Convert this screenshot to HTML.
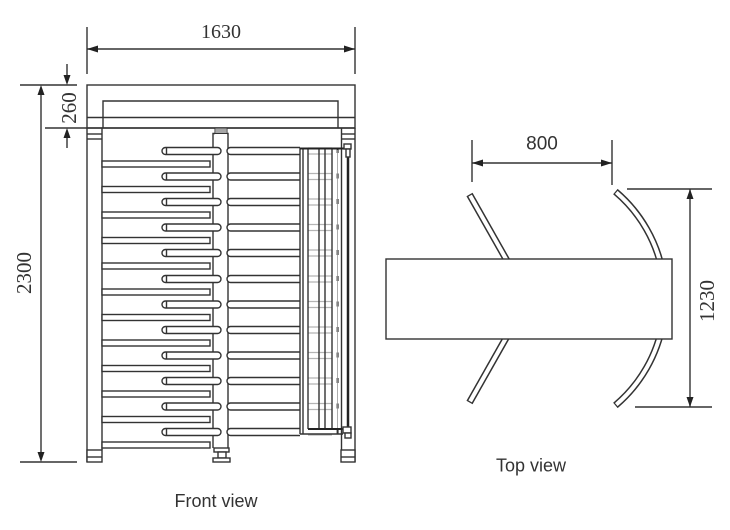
<!DOCTYPE html>
<html>
<head>
<meta charset="utf-8">
<style>
html,body{margin:0;padding:0;background:#fff;}
svg{display:block;}
.s{stroke:#333;stroke-width:1.4;fill:none;}
.w{stroke:#333;stroke-width:1.4;fill:#fff;}
.a{fill:#222;stroke:none;}
.dim{font-family:"Liberation Serif",serif;fill:#333;}
.lab{font-family:"Liberation Sans",sans-serif;fill:#333;}
</style>
</head>
<body>
<svg width="730" height="530" viewBox="0 0 730 530" xmlns="http://www.w3.org/2000/svg">
<defs>
  <g id="row">
    <rect x="102" y="10" width="108" height="6" class="w"/>
    <rect x="162" y="-3.5" width="59" height="7" rx="3.5" class="w"/>
    <line x1="166.5" y1="-3" x2="166.5" y2="3" class="s"/>
    <path d="M300,-3.5 H230.5 A3.5,3.5 0 0 0 230.5,3.5 H300" class="w"/>
    <line x1="308" y1="-3" x2="332" y2="-3" stroke="#b5b5b5" stroke-width="1.2"/>
    <line x1="308" y1="3" x2="332" y2="3" stroke="#b5b5b5" stroke-width="1.2"/>
    <rect x="336.6" y="-3" width="2" height="5" fill="#333"/>
  </g>
</defs>

<!-- ============ FRONT VIEW ============ -->
<line x1="87" y1="27" x2="87" y2="74" class="s"/>
<line x1="355" y1="27" x2="355" y2="74" class="s"/>
<line x1="87" y1="49" x2="355" y2="49" class="s"/>
<polygon points="87,49 98,45.5 98,52.5" class="a"/>
<polygon points="355,49 344,45.5 344,52.5" class="a"/>
<text x="221" y="38" text-anchor="middle" font-size="20" class="dim">1630</text>

<line x1="20" y1="85" x2="77" y2="85" class="s"/>
<line x1="45" y1="128" x2="355" y2="128" class="s"/>
<line x1="67" y1="64" x2="67" y2="80" class="s"/>
<polygon points="67,85 63.5,75 70.5,75" class="a"/>
<line x1="67" y1="133" x2="67" y2="148" class="s"/>
<polygon points="67,128 63.5,138 70.5,138" class="a"/>
<text transform="translate(76,108) rotate(-90)" text-anchor="middle" font-size="21" class="dim">260</text>

<line x1="41" y1="88" x2="41" y2="459" class="s"/>
<polygon points="41,85 37.5,95 44.5,95" class="a"/>
<polygon points="41,462 37.5,452 44.5,452" class="a"/>
<line x1="20" y1="462" x2="77" y2="462" class="s"/>
<text transform="translate(31,273) rotate(-90)" text-anchor="middle" font-size="21" class="dim">2300</text>

<rect x="87" y="85" width="268" height="43" class="s"/>
<line x1="87" y1="117.5" x2="355" y2="117.5" class="s"/>
<polyline points="103,128 103,101 338,101 338,128" class="s"/>

<line x1="87" y1="128" x2="87" y2="462" class="s"/>
<line x1="102" y1="128" x2="102" y2="450" class="s"/>
<line x1="87" y1="134" x2="102" y2="134" class="s"/>
<line x1="87" y1="139" x2="102" y2="139" class="s"/>
<rect x="87" y="450" width="15" height="12" class="w"/>
<line x1="87" y1="457" x2="102" y2="457" class="s"/>

<line x1="355" y1="128" x2="355" y2="462" class="s"/>
<line x1="341.5" y1="128" x2="341.5" y2="450" class="s"/>
<line x1="341.5" y1="134" x2="355" y2="134" class="s"/>
<line x1="341.5" y1="139" x2="355" y2="139" class="s"/>
<rect x="341" y="450" width="14" height="12" class="w"/>
<line x1="341" y1="457" x2="355" y2="457" class="s"/>

<rect x="215" y="128" width="12" height="5.5" fill="#ddd" stroke="#333" stroke-width="1"/>
<g stroke="#555" stroke-width="0.8">
  <line x1="217" y1="128" x2="217" y2="133"/><line x1="219" y1="128" x2="219" y2="133"/>
  <line x1="221" y1="128" x2="221" y2="133"/><line x1="223" y1="128" x2="223" y2="133"/>
  <line x1="225" y1="128" x2="225" y2="133"/>
</g>
<polyline points="213,448 213,133.5 215,133.5" class="s"/>
<polyline points="228,448 228,133.5 227,133.5" class="s"/>
<rect x="214" y="448" width="15" height="4" class="w"/>
<rect x="218" y="452" width="8" height="6" class="w"/>
<rect x="213" y="458" width="17" height="4" class="w"/>

<use href="#row" transform="translate(0,151)"/>
<use href="#row" transform="translate(0,176.5)"/>
<use href="#row" transform="translate(0,202)"/>
<use href="#row" transform="translate(0,227.5)"/>
<use href="#row" transform="translate(0,253)"/>
<use href="#row" transform="translate(0,279)"/>
<use href="#row" transform="translate(0,304.5)"/>
<use href="#row" transform="translate(0,330)"/>
<use href="#row" transform="translate(0,355.5)"/>
<use href="#row" transform="translate(0,381)"/>
<use href="#row" transform="translate(0,406.5)"/>
<use href="#row" transform="translate(0,432)"/>

<line x1="300" y1="148" x2="300" y2="434" class="s"/>
<line x1="303" y1="148" x2="303" y2="434" class="s"/>
<line x1="308" y1="148" x2="308" y2="429" class="s"/>
<line x1="319" y1="148" x2="319" y2="429" class="s"/>
<line x1="325" y1="148" x2="325" y2="429" class="s"/>
<line x1="332" y1="148" x2="332" y2="429" class="s"/>
<line x1="337.5" y1="150" x2="337.5" y2="429" stroke="#999" stroke-width="0.8"/>
<line x1="348" y1="148" x2="348" y2="430" stroke="#222" stroke-width="2.5"/>
<line x1="300" y1="148.5" x2="347" y2="148.5" stroke="#222" stroke-width="2"/>
<rect x="344" y="144" width="7" height="5" class="w"/>
<rect x="346" y="149" width="4" height="8" class="w"/>
<line x1="308" y1="429" x2="347" y2="429" stroke="#222" stroke-width="2"/>
<line x1="300" y1="434" x2="343" y2="434" class="s"/>
<rect x="343" y="427" width="8" height="6" class="w"/>
<rect x="345" y="433" width="6" height="5" class="w"/>

<text x="216" y="507" text-anchor="middle" font-size="18" class="lab">Front view</text>

<!-- ============ TOP VIEW ============ -->
<line x1="472" y1="140" x2="472" y2="182" class="s"/>
<line x1="612" y1="140" x2="612" y2="185" class="s"/>
<line x1="472" y1="163" x2="612" y2="163" class="s"/>
<polygon points="472,163 483,159.5 483,166.5" class="a"/>
<polygon points="612,163 601,159.5 601,166.5" class="a"/>
<text x="542" y="149.5" text-anchor="middle" font-size="19" class="lab">800</text>

<line x1="627" y1="189" x2="712" y2="189" class="s"/>
<line x1="635" y1="407" x2="712" y2="407" class="s"/>
<line x1="690" y1="189" x2="690" y2="407" class="s"/>
<polygon points="690,189 686.5,199 693.5,199" class="a"/>
<polygon points="690,407 686.5,397 693.5,397" class="a"/>
<text transform="translate(714,301) rotate(-90)" text-anchor="middle" font-size="21" class="dim">1230</text>

<line x1="469.5" y1="194.5" x2="508.9" y2="264.1" stroke="#333" stroke-width="7"/>
<line x1="470.14" y1="195.63" x2="508.9" y2="264.1" stroke="#fff" stroke-width="4"/>
<line x1="469.5" y1="402.5" x2="508.9" y2="332.9" stroke="#333" stroke-width="7"/>
<line x1="470.14" y1="401.37" x2="508.9" y2="332.9" stroke="#fff" stroke-width="4"/>

<path d="M615.4,191.6 A140,140 0 0 1 662.9,274.2" stroke="#333" stroke-width="7" fill="none"/>
<path d="M616.3,192.4 A140,140 0 0 1 662.9,274.2" stroke="#fff" stroke-width="4" fill="none"/>
<path d="M662.9,322.8 A140,140 0 0 1 615.4,405.4" stroke="#333" stroke-width="7" fill="none"/>
<path d="M662.9,322.8 A140,140 0 0 1 616.3,404.6" stroke="#fff" stroke-width="4" fill="none"/>

<rect x="386" y="259" width="286" height="80" class="w"/>

<text x="531" y="471.5" text-anchor="middle" font-size="18" class="lab">Top view</text>
</svg>
</body>
</html>
